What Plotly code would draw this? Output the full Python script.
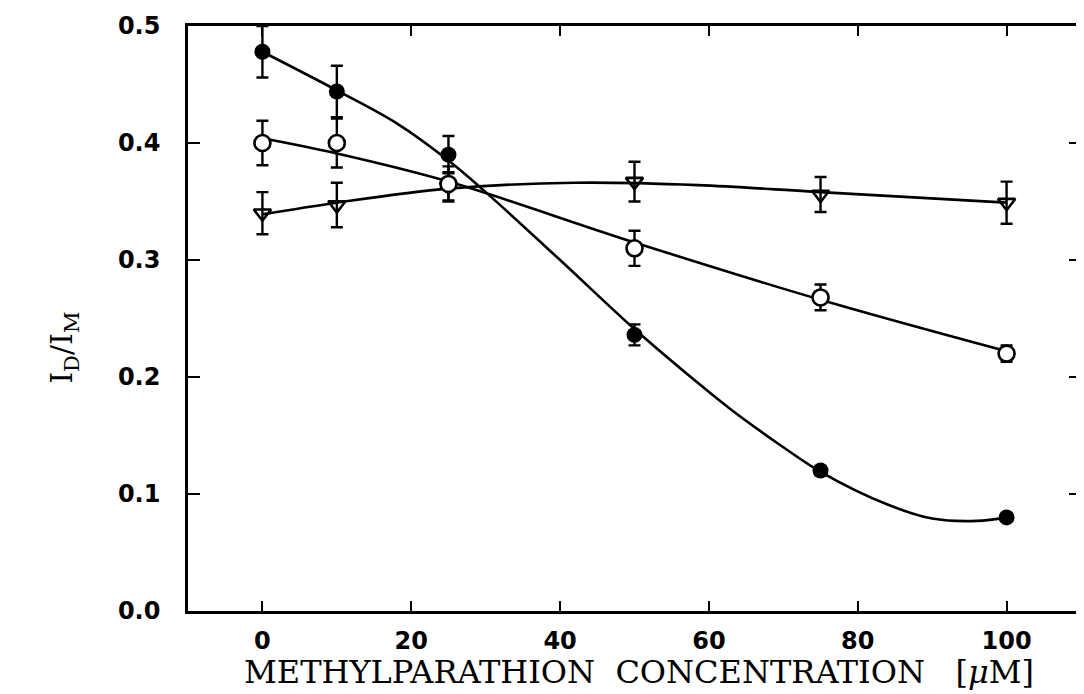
import plotly.graph_objects as go

# measured data points
conc = [0, 10, 25, 50, 75, 100]
filled_vals = [0.478, 0.444, 0.390, 0.236, 0.120, 0.080]
filled_err = [0.022, 0.022, 0.016, 0.009, 0.004, 0.003]
open_vals = [0.400, 0.400, 0.365, 0.310, 0.268, 0.220]
open_err = [0.019, 0.021, 0.015, 0.015, 0.011, 0.007]
tri_vals = [0.340, 0.347, 0.363, 0.367, 0.356, 0.349]
tri_err = [0.018, 0.019, 0.012, 0.017, 0.015, 0.018]

# fitted curves
filled_curve_x = [0, 10, 18, 25, 30, 40, 50, 58.5, 63, 70, 75, 84, 90, 96, 100]
filled_curve_y = [0.478, 0.445, 0.417, 0.385, 0.358, 0.300, 0.241, 0.195, 0.172, 0.140, 0.119, 0.091, 0.079, 0.077, 0.080]
open_curve_x = [0, 10, 25, 50, 75, 100]
open_curve_y = [0.404, 0.391, 0.367, 0.315, 0.266, 0.222]
tri_curve_x = [0, 10, 25, 42, 58.5, 75, 100]
tri_curve_y = [0.339, 0.349, 0.361, 0.366, 0.364, 0.358, 0.349]

x_ticks = [0, 20, 40, 60, 80, 100]
y_ticks = [0.0, 0.1, 0.2, 0.3, 0.4, 0.5]
x_title = "METHYLPARATHION\u00a0 CONCENTRATION\u00a0\u00a0 [<i>μ</i>M]"
y_title = "I<sub>D</sub>/I<sub>M</sub>"

fig = go.Figure()
line_style = dict(color="black", width=2.6, shape="spline", smoothing=1.0)
for cx, cy in [(filled_curve_x, filled_curve_y), (open_curve_x, open_curve_y), (tri_curve_x, tri_curve_y)]:
    fig.add_trace(go.Scatter(x=cx, y=cy, mode="lines", line=line_style, showlegend=False, hoverinfo="skip"))

err_style = dict(type="data", color="black", thickness=2.4, width=6)
fig.add_trace(go.Scatter(x=conc, y=tri_vals, mode="markers",
                         marker=dict(symbol="triangle-down-open", size=15, color="black", line=dict(width=2.6)),
                         error_y=dict(array=tri_err, **err_style), showlegend=False))
fig.add_trace(go.Scatter(x=conc, y=open_vals, mode="markers",
                         marker=dict(symbol="circle", size=16, color="white", line=dict(width=2.6, color="black")),
                         error_y=dict(array=open_err, **err_style), showlegend=False))
fig.add_trace(go.Scatter(x=conc, y=filled_vals, mode="markers",
                         marker=dict(symbol="circle", size=16, color="black", line=dict(width=0)),
                         error_y=dict(array=filled_err, **err_style), showlegend=False))

tick_font = dict(family="DejaVu Sans", size=24, color="black", weight="bold")
title_font = dict(family="DejaVu Serif", size=32, color="black")

fig.update_xaxes(range=[-10, 110], tickvals=x_ticks, ticks="inside", ticklen=10, tickwidth=2,
                 tickcolor="black", showline=True, linecolor="black", linewidth=2.6, mirror="ticks",
                 showgrid=False, zeroline=False, tickfont=tick_font, ticklabelstandoff=6)
fig.update_yaxes(range=[0, 0.5], tickvals=y_ticks, tickformat=".1f", ticks="inside", ticklen=12, tickwidth=2,
                 tickcolor="black", showline=True, linecolor="black", linewidth=2.6, mirror="ticks",
                 showgrid=False, zeroline=False, tickfont=tick_font, ticklabelstandoff=20)

fig.add_annotation(text=x_title, xref="paper", yref="paper", x=0.505, y=0, yshift=-61,
                   xanchor="center", yanchor="middle", showarrow=False, font=title_font)
fig.add_annotation(text=y_title, xref="paper", yref="paper", x=0, xshift=-124, y=0.45,
                   xanchor="center", yanchor="middle", textangle=-90, showarrow=False,
                   font=dict(family="DejaVu Serif", size=30, color="black"))

fig.update_layout(width=1076, height=686, margin=dict(l=180, r=0, t=18, b=83),
                  plot_bgcolor="white", paper_bgcolor="white")

fig.write_html("out.html")
